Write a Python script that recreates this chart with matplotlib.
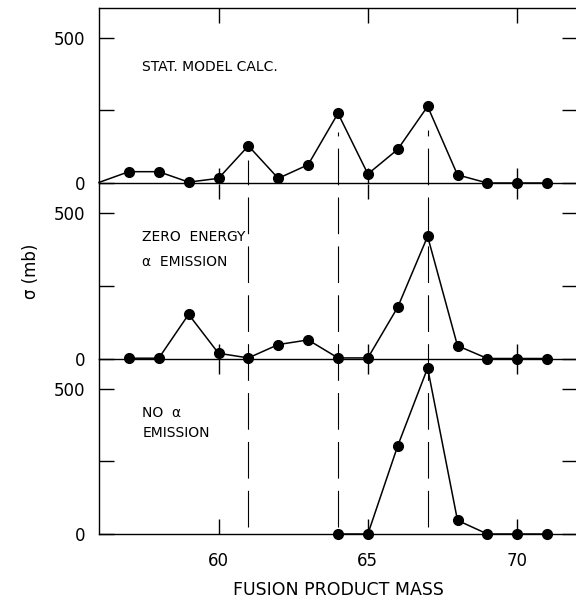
import numpy as np
import matplotlib
matplotlib.use('Agg')
import matplotlib.pyplot as plt

plt.rcParams['font.family'] = ['DejaVu Sans']

# masses and cross sections (mb)
mass_stat = [56, 57, 58, 59, 60, 61, 62, 63, 64, 65, 66, 67, 68, 69, 70, 71]
sigma_stat = [2, 39, 39, 3, 16, 128, 16, 63, 240, 31, 116, 264, 28, 0, 0, 0]

mass_zero = [57, 58, 59, 60, 61, 62, 63, 64, 65, 66, 67, 68, 69, 70, 71]
sigma_zero = [1, 1, 152, 18, 2, 48, 64, 2, 2, 177, 421, 44, 0, 0, 0]

mass_noa = [64, 65, 66, 67, 68, 69, 70, 71]
sigma_noa = [0, 0, 304, 572, 47, 0, 0, 0]

dashed_masses = [61, 64, 67]
panel_labels = [["STAT. MODEL CALC."],
                ["ZERO  ENERGY", "α  EMISSION"],
                ["NO  α", "EMISSION"]]
xticks = [60, 65, 70]
yticks = [0, 250, 500]
ytick_labels = ["0", "", "500"]

fig = plt.figure(figsize=(5.76, 5.98), dpi=100)
left, width, h = 99/576, 478/576, 175/598
bottoms = [(598-183)/598, (598-358.5)/598, (598-534)/598]
axes = [fig.add_axes([left, b, width, h]) for b in bottoms]

series = [(mass_stat, sigma_stat), (mass_zero, sigma_zero), (mass_noa, sigma_noa)]
label_y = [[400], [417, 331], [417, 348]]

for i, ax in enumerate(axes):
    m, s = series[i]
    mk = list(range(1, len(m))) if i == 0 else None
    ax.plot(m, s, color='black', lw=1.1, marker='o', ms=7,
            markevery=mk, clip_on=False, zorder=3)
    ax.set_xlim(56, 72)
    ax.set_ylim(0, 603)
    ax.set_xticks(xticks)
    ax.set_yticks(yticks)
    ax.set_yticklabels(ytick_labels, fontsize=12)
    ax.tick_params(direction='in', length=11, width=1.0, top=True, right=True,
                   pad=10)
    ax.tick_params(axis='x', pad=13, labelsize=12)
    if i < 2:
        ax.tick_params(axis='x', labelbottom=False)
    ax.spines['right'].set_visible(False)
    if i > 0:
        ax.spines['top'].set_visible(False)
    for sp in ax.spines.values():
        sp.set_linewidth(1.0)
    ax.patch.set_alpha(0)
    for txt, yy in zip(panel_labels[i], label_y[i]):
        ax.text(57.45, yy, txt, fontsize=10, va='center', ha='left')

# dashed guides running through all three panels
ymax_frac = {61: 2.14, 64: 2.30, 67: 2.31}
for m in dashed_masses:
    axes[2].axvline(m, ymin=0.04, ymax=ymax_frac[m], color='black', lw=0.8,
                    dashes=(33, 11), clip_on=False, zorder=1)

axes[2].set_xlabel("FUSION PRODUCT MASS", fontsize=12.5, labelpad=8)
axes[1].set_ylabel("σ (mb)", fontsize=12, labelpad=10)

fig.savefig("out.png", dpi=100)
